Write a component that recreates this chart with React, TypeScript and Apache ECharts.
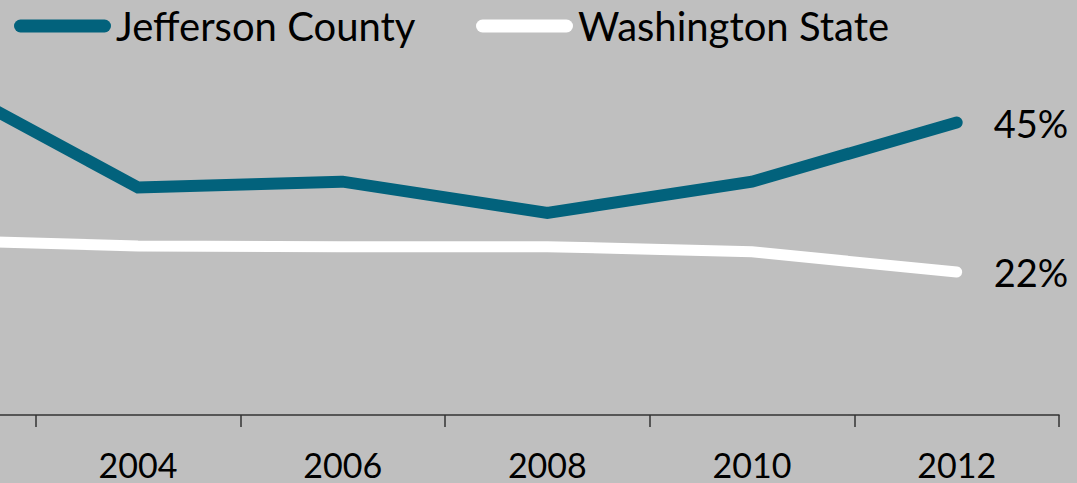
import React, { useEffect, useRef } from "react";
import * as echarts from "echarts";

const years = ["2002", "2004", "2006", "2008", "2010", "2012"];
const jefferson = [52, 35, 35.9, 31.1, 35.9, 45];
const washington = [26.9, 26, 25.9, 25.9, 25.1, 22];

const FONT = "Lato";
const pill = "path://M6.5,0L90.5,0A6.5,6.5,0,0,1,90.5,13L6.5,13A6.5,6.5,0,0,1,6.5,0Z";
// the chart is wider than the window; its first category lies off-screen to the left
const OFFSET = 169;

export default function App() {
  const ref = useRef<HTMLDivElement>(null);
  useEffect(() => {
    if (!ref.current) return;
    const chart = echarts.init(ref.current, undefined, { renderer: "svg" });
    const legendBase = {
      top: 6,
      padding: 0,
      icon: pill,
      itemWidth: 97,
      itemHeight: 13,
      itemGap: 5,
      itemStyle: { borderWidth: 0 },
      textStyle: { fontFamily: FONT, fontSize: 40, color: "#000" },
      selectedMode: false,
    };
    const endLabel = {
      show: true,
      formatter: (p: any) => p.value + "%",
      fontFamily: FONT,
      fontSize: 38,
      color: "#000",
      distance: 37,
    };
    chart.setOption({
      animation: false,
      backgroundColor: "#bfbfbf",
      textStyle: { fontFamily: FONT },
      legend: [
        { ...legendBase, left: 14 + OFFSET, data: ["Jefferson County"] },
        { ...legendBase, left: 476 + OFFSET, data: ["Washington State"] },
      ],
      grid: { left: 0, right: 18, top: 25, bottom: 68, containLabel: false },
      xAxis: {
        type: "category",
        data: years,
        boundaryGap: true,
        axisLine: { show: true, lineStyle: { color: "#333", width: 1.5 } },
        axisTick: { show: true, length: 12, lineStyle: { color: "#333", width: 1.5 } },
        axisLabel: {
          fontFamily: FONT,
          fontSize: 34,
          color: "#000",
          margin: 32,
          interval: (i: number) => i > 0,
        },
        splitLine: { show: false },
      },
      yAxis: { type: "value", min: 0, max: 60, show: false },
      series: [
        {
          name: "Jefferson County",
          type: "line",
          data: jefferson,
          showSymbol: false,
          symbol: "none",
          color: "#02627c",
          itemStyle: { color: "#02627c" },
          lineStyle: { color: "#02627c", width: 12, cap: "round", join: "miter" },
          endLabel,
        },
        {
          name: "Washington State",
          type: "line",
          data: washington,
          showSymbol: false,
          symbol: "none",
          color: "#ffffff",
          itemStyle: { color: "#ffffff" },
          lineStyle: { color: "#ffffff", width: 11, cap: "round", join: "miter" },
          endLabel,
        },
      ],
    });
    return () => chart.dispose();
  }, []);
  return (
    <div
      ref={ref}
      style={{ position: "fixed", left: -OFFSET, top: 0, width: 1077 + OFFSET, height: 483 }}
    />
  );
}
